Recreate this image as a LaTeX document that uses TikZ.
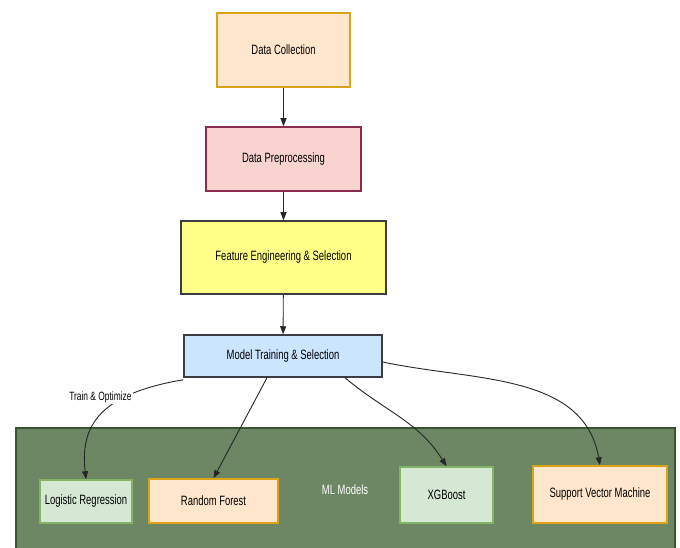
\documentclass[tikz,border=0pt]{standalone}
\usepackage{fontspec}
\setmainfont{Liberation Sans}[FakeStretch=0.7]
\usepackage{xcolor}
\usepackage{tikz}
\usetikzlibrary{arrows.meta,positioning,calc}
\definecolor{peachfill}{HTML}{FFE6CC}
\definecolor{peachdraw}{HTML}{D9A31A}
\definecolor{rosefill}{HTML}{F8D3D0}
\definecolor{rosedraw}{HTML}{8A2C4E}
\definecolor{lemonfill}{HTML}{FFFF88}
\definecolor{slatedraw}{HTML}{3A3D42}
\definecolor{skyfill}{HTML}{CCE5FF}
\definecolor{mintfill}{HTML}{D5E8D4}
\definecolor{mintdraw}{HTML}{82B366}
\definecolor{mossfill}{HTML}{6D8764}
\definecolor{mossdraw}{HTML}{3A5431}
\tikzset{
  stagebox/.style={draw,line width=1.5pt,align=center,inner sep=0pt,
    font=\fontsize{13.5}{16}\selectfont},
  modelbox/.style={stagebox,line width=1.5pt},
  flowarrow/.style={-{Triangle[length=8pt,width=6pt]},line width=0.9pt,draw=black!85},
  edgelabel/.style={font=\fontsize{12}{14}\selectfont,fill=white,inner sep=1pt}
}
\begin{document}
\begin{tikzpicture}[x=1pt,y=-1pt]
  \useasboundingbox (0,0) rectangle (680,548);
  % model container
  \draw[fill=mossfill,draw=mossdraw,line width=1.2pt] (16,428) rectangle (675,549);
  \node[white,font=\fontsize{13.5}{16}\selectfont] (mlm) at (345,490) {ML Models};
  % pipeline
  \node[stagebox,fill=peachfill,draw=peachdraw,minimum width=133pt,minimum height=74pt]
    (dc) at (283.5,50) {Data Collection};
  \node[stagebox,fill=rosefill,draw=rosedraw,minimum width=155pt,minimum height=64pt]
    (dp) at (283.5,159) {Data Preprocessing};
  \node[stagebox,fill=lemonfill,draw=slatedraw,minimum width=205pt,minimum height=73pt]
    (fe) at (283.5,257.5) {Feature Engineering \& Selection};
  \node[stagebox,fill=skyfill,draw=slatedraw,minimum width=198pt,minimum height=42pt]
    (mt) at (283,356) {Model Training \& Selection};
  % models
  \node[modelbox,fill=mintfill,draw=mintdraw,minimum width=92pt,minimum height=43pt]
    (lr) at (86,501.5) {Logistic Regression};
  \node[modelbox,fill=peachfill,draw=peachdraw,minimum width=129pt,minimum height=44pt]
    (rf) at (213.5,501) {Random Forest};
  \node[modelbox,fill=mintfill,draw=mintdraw,minimum width=93pt,minimum height=56pt]
    (xgb) at (446.5,495) {XGBoost};
  \node[modelbox,fill=peachfill,draw=peachdraw,minimum width=134pt,minimum height=57pt]
    (svm) at (600,494.5) {Support Vector Machine};
  % connectors
  \draw[flowarrow] (dc) -- (dp);
  \draw[flowarrow] (dp) -- (fe);
  \draw[flowarrow] (fe) -- (mt);
  \draw[flowarrow] ([yshift=-2pt]mt.south west) .. controls (100,394) and (80,425) .. (lr.north)
    node[edgelabel,pos=0.3,xshift=-24pt] {Train \& Optimize};
  \draw[flowarrow] ([xshift=-16pt]mt.south) -- (rf.north);
  \draw[flowarrow] ([xshift=62pt]mt.south) to[out=-40,in=122] (xgb.north);
  \draw[flowarrow] ([yshift=-6pt]mt.east) to[out=-12,in=100] (svm.north);
\end{tikzpicture}
\end{document}
